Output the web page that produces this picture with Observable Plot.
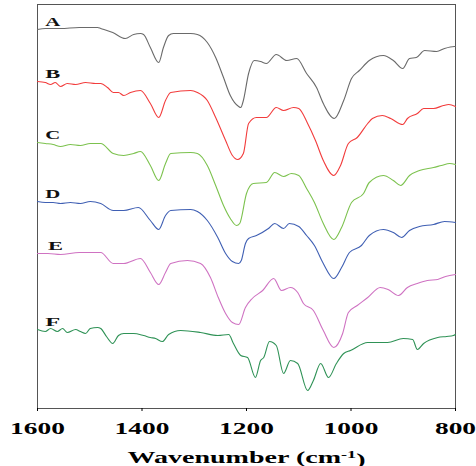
<!DOCTYPE html>
<html>
<head>
<meta charset="utf-8">
<script src="https://cdn.jsdelivr.net/npm/d3@7"></script>
<script src="https://cdn.jsdelivr.net/npm/@observablehq/plot@0.6"></script>
<style>
  html, body { margin: 0; padding: 0; background: #fff; }
  #chart svg { display: block; }
  #chart svg, #chart svg text, #chart svg tspan {
    font-family: "Liberation Serif", "Times New Roman", Times, "DejaVu Serif", serif !important;
    font-weight: bold;
  }
</style>
</head>
<body>
<div id="chart"></div>
<script>
// Series names and colours
const names = ["A", "B", "C", "D", "E", "F"];
const colors = ["#6a6a6a", "#f23c3c", "#7cc24e", "#3f5fb3", "#cf72c2", "#2f9256"];
const xTicks = [1600, 1400, 1200, 1000, 800];

// [wavenumber (cm-1), transmittance (offset, a.u.)]
const seriesA = [[1600,379],[1585,380],[1556,380],[1520,381],[1485,381],[1479,380],[1456,376],[1432,370],[1416,374],[1403,375],[1397,374],[1384,361],[1368,346],[1359,361],[1349,373],[1340,375],[1307,375],[1294,374],[1275,366],[1259,351],[1244,331],[1231,313],[1215,302],[1211,301],[1206,308],[1196,335],[1185,348],[1173,347],[1162,345],[1143,354],[1123,348],[1104,350],[1085,335],[1066,321],[1053,305],[1032,290],[1014,308],[999,330],[984,338],[965,348],[938,353],[919,348],[901,340],[888,350],[875,351],[859,358],[836,357],[821,360],[802,362],[800,362]];
const seriesB = [[1600,327],[1585,326],[1575,324],[1566,326],[1556,322],[1543,325],[1527,324],[1508,326],[1489,325],[1479,325],[1466,321],[1455,316],[1445,316],[1435,313],[1422,316],[1403,318],[1384,305],[1368,291],[1355,308],[1345,316],[1307,318],[1294,316],[1275,308],[1259,291],[1240,268],[1227,253],[1217,249],[1206,255],[1196,285],[1181,291],[1162,291],[1143,301],[1129,298],[1110,301],[1100,300],[1083,285],[1068,268],[1053,248],[1033,233],[1020,243],[1005,265],[988,271],[968,285],[959,290],[940,293],[924,290],[901,284],[892,290],[873,295],[861,300],[842,300],[823,303],[813,304],[800,302]];
const seriesC = [[1600,266],[1585,265],[1570,264],[1556,262],[1537,264],[1518,263],[1499,265],[1479,265],[1455,255],[1435,253],[1416,255],[1403,257],[1384,243],[1368,228],[1355,245],[1345,255],[1307,256],[1294,255],[1275,243],[1259,223],[1244,203],[1231,190],[1219,183],[1213,185],[1200,215],[1187,225],[1162,226],[1146,236],[1129,232],[1114,235],[1100,233],[1085,220],[1070,206],[1053,185],[1033,169],[1018,181],[999,206],[976,215],[965,226],[938,233],[919,228],[905,223],[888,233],[869,238],[842,241],[827,243],[811,245],[800,244]];
const seriesD = [[1600,207],[1585,206],[1570,206],[1556,205],[1537,206],[1518,205],[1499,207],[1479,205],[1455,198],[1435,198],[1407,201],[1384,188],[1368,179],[1355,193],[1345,198],[1307,199],[1294,197],[1275,188],[1255,171],[1240,155],[1227,147],[1215,145],[1210,148],[1202,165],[1196,170],[1181,173],[1158,180],[1146,185],[1129,180],[1118,185],[1100,182],[1085,173],[1070,163],[1053,145],[1033,130],[1018,141],[1003,156],[980,163],[965,173],[938,179],[919,176],[903,171],[888,178],[869,182],[842,184],[821,187],[800,186]];
const seriesE = [[1600,155],[1580,155],[1556,154],[1520,156],[1479,156],[1455,145],[1435,145],[1403,150],[1384,136],[1368,124],[1355,136],[1345,145],[1313,148],[1288,145],[1269,131],[1254,111],[1240,95],[1227,86],[1215,84],[1202,101],[1189,110],[1169,118],[1148,130],[1133,118],[1116,121],[1102,116],[1091,105],[1072,98],[1053,78],[1033,61],[1016,75],[1005,96],[988,103],[968,111],[944,121],[929,119],[909,113],[892,121],[873,125],[854,128],[834,129],[819,132],[800,134]];
const seriesF = [[1600,79],[1585,77],[1575,80],[1562,77],[1552,80],[1543,76],[1527,79],[1518,77],[1508,75],[1499,80],[1485,81],[1479,80],[1468,72],[1456,65],[1445,73],[1435,75],[1416,75],[1397,73],[1384,71],[1374,70],[1361,67],[1349,74],[1326,78],[1288,76],[1255,73],[1234,74],[1225,65],[1211,53],[1198,51],[1183,31],[1173,48],[1167,51],[1156,67],[1143,63],[1129,35],[1116,48],[1102,45],[1083,18],[1072,28],[1058,45],[1043,31],[1028,45],[1014,55],[1001,58],[968,66],[930,66],[900,70],[882,69],[873,59],[861,65],[834,71],[817,72],[804,73],[800,74]];

const allSeries = [seriesA, seriesB, seriesC, seriesD, seriesE, seriesF];
const data = allSeries.flatMap((pts, i) => pts.map(([w, t]) => ({w, t, s: names[i]})));
const labelData = allSeries.map((pts, i) => ({w: pts[1][0], t: pts[0][1], s: names[i]}));

const serif = "'Liberation Serif', 'Times New Roman', Times, serif";

const chart = Plot.plot({
  width: 476,
  height: 466,
  marginLeft: 37,
  marginRight: 21,
  marginTop: 4,
  marginBottom: 58,
  style: "font-family: 'Liberation Serif', 'Times New Roman', serif; font-weight: bold; font-size: 16px; background: #fff; color: #000;",
  x: {domain: [1600, 800]},
  y: {domain: [0, 404], axis: null},
  color: {domain: names, range: colors},
  marks: [
    Plot.frame({stroke: "#555", strokeWidth: 1}),
    Plot.axisX({ticks: xTicks, tickSize: 3, tickPadding: 11, tickFormat: d => String(d), fontSize: 16,
      label: "Wavenumber (cm-1)", labelAnchor: "center", labelOffset: 54, labelArrow: "none"}),
    Plot.line(data, {x: "w", y: "t", stroke: "s", z: "s", strokeWidth: 1.1, curve: "monotone-x"}),
    Plot.text(labelData, {x: "w", y: "t", text: "s", textAnchor: "start", lineAnchor: "bottom",
      dy: -4, dx: 0, fontSize: 12, fontWeight: "bold", fill: "#111"})
  ]
});

document.getElementById("chart").appendChild(chart);

// Wide, bold serif text as in the reference
const svg = d3.select(chart).attr("font-family", serif).attr("font-weight", "bold");
svg.selectAll('[aria-label="x-axis tick label"] text').each(function() {
  const n = this.textContent.length;
  d3.select(this).attr("textLength", n * 13.7).attr("lengthAdjust", "spacingAndGlyphs");
});
svg.selectAll('[aria-label="text"] text').attr("textLength", 15).attr("lengthAdjust", "spacingAndGlyphs");
svg.selectAll('[aria-label="x-axis label"] text').each(function() {
  const t = d3.select(this);
  t.text(null).attr("font-size", 17);
  t.append("tspan").text("Wavenumber (cm");
  t.append("tspan").attr("dy", "-0.45em").attr("font-size", 11).text("-1");
  t.append("tspan").attr("dy", "0.45em").text(")");
  t.attr("textLength", 238).attr("lengthAdjust", "spacingAndGlyphs");
});
</script>
</body>
</html>
